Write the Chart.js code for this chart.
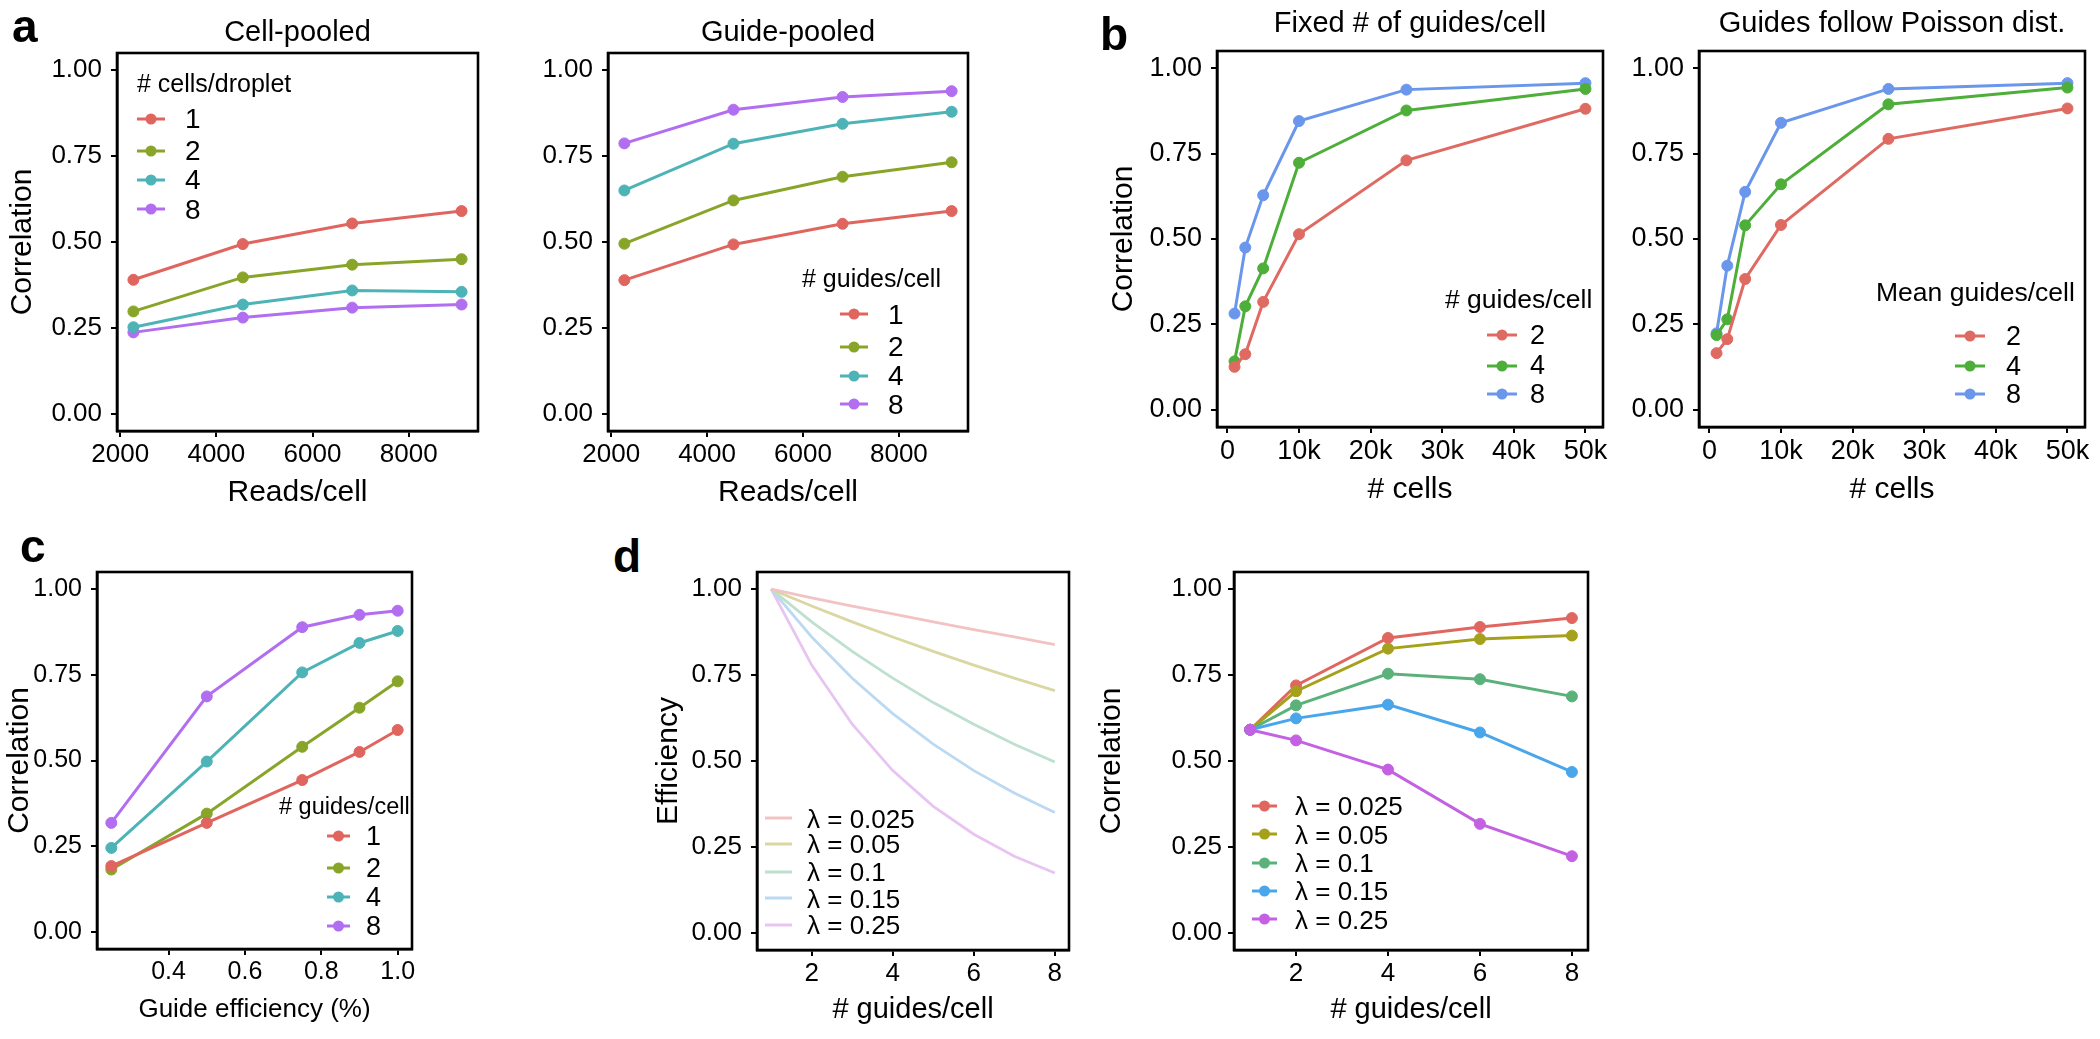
<!DOCTYPE html>
<html><head><meta charset="utf-8">
<script src="https://cdn.jsdelivr.net/npm/chart.js@4.4.1/dist/chart.umd.min.js"></script>
<style>
html,body{margin:0;padding:0;background:#fff;}
body{width:2100px;height:1039px;position:relative;overflow:hidden;font-family:'Liberation Sans',Arial,sans-serif;color:#000;}
canvas{position:absolute;}
.t{position:absolute;white-space:nowrap;line-height:1;font-family:'Liberation Sans',Arial,sans-serif;color:#000;}
.pl{position:absolute;font-weight:bold;font-size:46px;line-height:46px;font-family:'Liberation Sans',Arial,sans-serif;}
svg.k{position:absolute;overflow:visible;}
</style></head><body>
<script>
// ---------------- DATA ----------------
const corrTicks = [0, 0.25, 0.5, 0.75, 1];
const corrTickLabels = ['0.00', '0.25', '0.50', '0.75', '1.00'];

// panel a
const readsPerCell = [2275, 4550, 6825, 9100];
const readsTicks = [2000, 4000, 6000, 8000];
const readsTickLabels = ['2000', '4000', '6000', '8000'];
const groupLabels = ['1', '2', '4', '8'];
const cellPooled1 = [0.390, 0.494, 0.554, 0.590];
const cellPooled2 = [0.298, 0.397, 0.434, 0.450];
const cellPooled4 = [0.252, 0.318, 0.359, 0.355];
const cellPooled8 = [0.237, 0.280, 0.309, 0.318];
const guidePooled1 = [0.389, 0.493, 0.553, 0.590];
const guidePooled2 = [0.495, 0.621, 0.690, 0.732];
const guidePooled4 = [0.650, 0.786, 0.844, 0.879];
const guidePooled8 = [0.787, 0.885, 0.922, 0.939];

// panel b
const numCells = [1000, 2500, 5000, 10000, 25000, 50000];
const cellTicks = [0, 10000, 20000, 30000, 40000, 50000];
const cellTickLabels = ['0', '10k', '20k', '30k', '40k', '50k'];
const bLabels = ['2', '4', '8'];
const fixed2 = [0.126, 0.163, 0.316, 0.514, 0.730, 0.881];
const fixed4 = [0.142, 0.303, 0.414, 0.723, 0.876, 0.939];
const fixed8 = [0.282, 0.475, 0.628, 0.845, 0.937, 0.956];
const poisson2 = [0.166, 0.207, 0.383, 0.541, 0.793, 0.882];
const poisson4 = [0.219, 0.265, 0.540, 0.660, 0.894, 0.943];
const poisson8 = [0.224, 0.422, 0.638, 0.840, 0.939, 0.956];

// panel c
const guideEfficiency = [0.25, 0.5, 0.75, 0.9, 1.0];
const effTicks = [0.4, 0.6, 0.8, 1.0];
const effTickLabels = ['0.4', '0.6', '0.8', '1.0'];
const effCorr1 = [0.192, 0.318, 0.443, 0.525, 0.589];
const effCorr2 = [0.182, 0.345, 0.540, 0.654, 0.731];
const effCorr4 = [0.245, 0.497, 0.757, 0.843, 0.878];
const effCorr8 = [0.318, 0.687, 0.889, 0.925, 0.937];

// panel d
const lambdaLabels = ['λ = 0.025', 'λ = 0.05', 'λ = 0.1', 'λ = 0.15', 'λ = 0.25'];
const guidesCurve = [1, 2, 3, 4, 5, 6, 7, 8];
const efficiency0025 = [1.00, 0.975, 0.951, 0.928, 0.905, 0.882, 0.861, 0.839];
const efficiency005 = [1.00, 0.951, 0.905, 0.861, 0.819, 0.779, 0.741, 0.705];
const efficiency01 = [1.00, 0.905, 0.819, 0.741, 0.670, 0.607, 0.549, 0.497];
const efficiency015 = [1.00, 0.861, 0.741, 0.638, 0.549, 0.472, 0.407, 0.350];
const efficiency025 = [1.00, 0.779, 0.607, 0.472, 0.368, 0.287, 0.223, 0.174];
const guidesPoints = [1, 2, 4, 6, 8];
const guideTicks = [2, 4, 6, 8];
const guideTickLabels = ['2', '4', '6', '8'];
const lamCorr0025 = [0.591, 0.720, 0.858, 0.890, 0.916];
const lamCorr005 = [0.591, 0.703, 0.827, 0.855, 0.865];
const lamCorr01 = [0.591, 0.662, 0.754, 0.738, 0.688];
const lamCorr015 = [0.591, 0.624, 0.664, 0.583, 0.468];
const lamCorr025 = [0.591, 0.560, 0.475, 0.317, 0.223];

// ---------------- STYLE ----------------
const FONT = "'Liberation Sans', Arial, sans-serif";
Chart.defaults.font.family = FONT;
Chart.defaults.color = '#000';

const col4 = ['#E0655F', '#88A52A', '#4DB3B7', '#B26EF0'];
const col3 = ['#DF6A62', '#4DAE3A', '#6A96EC'];
const col5 = ['#E0675F', '#A6A11A', '#5AB27A', '#4AA6EA', '#C460E2'];
const col5pale = ['#F2C3C2', '#DAD7A3', '#BFDFCF', '#BCD9F2', '#E8C4F1'];

const boxPlugin = {
  id: 'panelBox',
  afterDraw(chart) {
    const {ctx, chartArea: a} = chart;
    ctx.save();
    ctx.strokeStyle = '#000';
    ctx.lineWidth = 2.6;
    ctx.strokeRect(a.left, a.top, a.right - a.left, a.bottom - a.top);
    ctx.restore();
  }
};

function ser(label, xs, ys, color, extra) {
  return Object.assign({
    label, data: xs.map((x, i) => ({x, y: ys[i]})),
    borderColor: color, backgroundColor: color,
    pointBackgroundColor: color, pointBorderColor: color,
    pointRadius: 5.5, pointHoverRadius: 5.5, pointBorderWidth: 1,
    borderWidth: 3, tension: 0, fill: false
  }, extra || {});
}

function buildChart(P, datasets) {
  const LH = 1.2;
  const yw = P.yTitle ? Math.round(P.L - P.yTitleX + 20) : 80;
  const Lc = P.L - yw;
  const W = Math.round(P.R + P.pr - Lc);
  const xh = Math.round(P.xTitleY - P.B + 20);
  const H = Math.round(P.B + xh - P.Tc);
  const cv = document.createElement('canvas');
  cv.width = W; cv.height = H;
  cv.style.left = Lc + 'px'; cv.style.top = P.Tc + 'px';
  document.body.appendChild(cv);

  let titleOpt = {display: false};
  if (P.title) {
    const pt = P.titleMid - P.Tc - P.titleSize * LH / 2;
    const pb = P.T - P.Tc - pt - P.titleSize * LH;
    titleOpt = {display: true, text: P.title, fullSize: false, color: '#000',
      font: {size: P.titleSize, weight: 'normal', family: FONT}, padding: {top: pt, bottom: pb}};
  }
  const yPad = P.yTitle ? yw - (P.L - P.yTitleX) - P.yTitleSize * LH / 2 : 0;
  const xPad = xh - (P.xTitleY - P.B) - P.xTitleSize * LH / 2;
  const grid = {drawOnChartArea: false, drawTicks: true, tickLength: 6, tickWidth: 2, tickColor: '#000', color: '#000', lineWidth: 2};
  const border = {display: true, color: '#000', width: 2.6};

  return new Chart(cv, {
    type: 'line',
    data: {datasets},
    options: {
      responsive: false, animation: false, devicePixelRatio: 1,
      layout: {padding: {top: P.title ? 0 : (P.T - P.Tc), right: P.pr, bottom: 0, left: 0}},
      plugins: {legend: {display: false}, tooltip: {enabled: false}, title: titleOpt},
      scales: {
        x: {
          type: 'linear', min: P.xMin, max: P.xMax,
          afterBuildTicks: s => { s.ticks = P.xTicks.map(v => ({value: v})); },
          afterFit: s => { s.height = xh; },
          ticks: {callback: (v, i) => P.xTickLabels[i], font: {size: P.xTickSize}, color: '#000', padding: 2, maxRotation: 0, autoSkip: false},
          grid, border,
          title: {display: true, text: P.xTitle, color: '#000', font: {size: P.xTitleSize}, padding: {top: 0, bottom: xPad}}
        },
        y: {
          type: 'linear', min: -0.05, max: 1.05,
          afterBuildTicks: s => { s.ticks = corrTicks.map(v => ({value: v})); },
          afterFit: s => { s.width = yw; },
          ticks: {callback: (v, i) => corrTickLabels[i], font: {size: P.yTickSize}, color: '#000', padding: P.yTickPad || 9, autoSkip: false},
          grid, border,
          title: {display: !!P.yTitle, text: P.yTitle || '', color: '#000', font: {size: P.yTitleSize || 30}, padding: {top: yPad, bottom: 0}}
        }
      }
    },
    plugins: [boxPlugin]
  });
}

function addText(str, x, top, size) {
  const d = document.createElement('div');
  d.className = 't';
  d.textContent = str;
  d.style.left = x + 'px'; d.style.top = top + 'px'; d.style.fontSize = size + 'px';
  document.body.appendChild(d);
}

function addLegend(chart, S) {
  if (S.title) addText(S.title, S.titleX, S.titleBase - 0.8465 * S.titleSize, S.titleSize);
  chart.data.datasets.forEach((ds, i) => {
    const cy = S.ys[i];
    const c = ds.borderColor;
    const svg = document.createElementNS('http://www.w3.org/2000/svg', 'svg');
    svg.setAttribute('class', 'k');
    svg.setAttribute('width', S.keyW); svg.setAttribute('height', 16);
    svg.style.left = S.keyX + 'px'; svg.style.top = (cy - 8) + 'px';
    let inner = `<line x1="0" y1="8" x2="${S.keyW}" y2="8" stroke="${c}" stroke-width="${S.lineW || 3}"/>`;
    if (S.points) inner += `<circle cx="${S.keyW / 2}" cy="8" r="5.5" fill="${c}"/>`;
    svg.innerHTML = inner;
    document.body.appendChild(svg);
    addText(ds.label, S.labelX, cy - 0.49 * S.labelSize, S.labelSize);
  });
}

function panelLetter(ch, x, top) {
  const d = document.createElement('div');
  d.className = 'pl'; d.textContent = ch;
  d.style.left = x + 'px'; d.style.top = top + 'px';
  document.body.appendChild(d);
}

// ---------------- CHARTS ----------------
const chA1 = buildChart({L: 117, T: 53, R: 478, B: 431, Tc: 0, pr: 20,
  title: 'Cell-pooled', titleMid: 33, titleSize: 29,
  yTitle: 'Correlation', yTitleX: 23, yTitleSize: 30, yTickSize: 26,
  xTitle: 'Reads/cell', xTitleY: 493, xTitleSize: 30, xTickSize: 26,
  xMin: 1933.75, xMax: 9441.25, xTicks: readsTicks, xTickLabels: readsTickLabels},
  [cellPooled1, cellPooled2, cellPooled4, cellPooled8].map((ys, i) => ser(groupLabels[i], readsPerCell, ys, col4[i])));
addLegend(chA1, {title: '# cells/droplet', titleX: 137, titleBase: 91.7, titleSize: 25,
  keyX: 137, keyW: 28, labelX: 185, labelSize: 28, ys: [119, 150.7, 180, 209.3], points: true});

const chA2 = buildChart({L: 608, T: 53, R: 968, B: 431, Tc: 0, pr: 20,
  title: 'Guide-pooled', titleMid: 33, titleSize: 29, yTickSize: 26,
  xTitle: 'Reads/cell', xTitleY: 493, xTitleSize: 30, xTickSize: 26,
  xMin: 1933.75, xMax: 9441.25, xTicks: readsTicks, xTickLabels: readsTickLabels},
  [guidePooled1, guidePooled2, guidePooled4, guidePooled8].map((ys, i) => ser(groupLabels[i], readsPerCell, ys, col4[i])));
addLegend(chA2, {title: '# guides/cell', titleX: 802, titleBase: 287.3, titleSize: 25,
  keyX: 840, keyW: 28, labelX: 888, labelSize: 28, ys: [314.3, 346.7, 376, 404.3], points: true});

const chB1 = buildChart({L: 1217, T: 51, R: 1603, B: 427, Tc: 0, pr: 20,
  title: 'Fixed # of guides/cell', titleMid: 24.3, titleSize: 29,
  yTitle: 'Correlation', yTitleX: 1124, yTitleSize: 30, yTickSize: 27,
  xTitle: '# cells', xTitleY: 490, xTitleSize: 30, xTickSize: 27,
  xMin: -1450, xMax: 52450, xTicks: cellTicks, xTickLabels: cellTickLabels},
  [fixed2, fixed4, fixed8].map((ys, i) => ser(bLabels[i], numCells, ys, col3[i])));
addLegend(chB1, {title: '# guides/cell', titleX: 1445, titleBase: 308.3, titleSize: 26.5,
  keyX: 1487, keyW: 30, labelX: 1530, labelSize: 27, ys: [335, 365.7, 394.3], points: true});

const chB2 = buildChart({L: 1699, T: 51, R: 2085, B: 427, Tc: 0, pr: 15,
  title: 'Guides follow Poisson dist.', titleMid: 24.3, titleSize: 29, yTickSize: 27,
  xTitle: '# cells', xTitleY: 490, xTitleSize: 30, xTickSize: 27,
  xMin: -1450, xMax: 52450, xTicks: cellTicks, xTickLabels: cellTickLabels},
  [poisson2, poisson4, poisson8].map((ys, i) => ser(bLabels[i], numCells, ys, col3[i])));
addLegend(chB2, {title: 'Mean guides/cell', titleX: 1876, titleBase: 301.7, titleSize: 26.5,
  keyX: 1955, keyW: 30, labelX: 2006, labelSize: 27, ys: [336, 366, 394.3], points: true});

const chC = buildChart({L: 97, T: 572, R: 412, B: 949, Tc: 520, pr: 20,
  yTitle: 'Correlation', yTitleX: 20, yTitleSize: 30, yTickSize: 25,
  xTitle: 'Guide efficiency (%)', xTitleY: 1010, xTitleSize: 26, xTickSize: 25,
  xMin: 0.2125, xMax: 1.0375, xTicks: effTicks, xTickLabels: effTickLabels},
  [effCorr1, effCorr2, effCorr4, effCorr8].map((ys, i) => ser(groupLabels[i], guideEfficiency, ys, col4[i])));
addLegend(chC, {title: '# guides/cell', titleX: 279, titleBase: 815, titleSize: 23.5,
  keyX: 327, keyW: 23, labelX: 366, labelSize: 27, ys: [836, 868.3, 897.3, 926], points: true});

const chD1 = buildChart({L: 757, T: 572, R: 1069, B: 950, Tc: 520, pr: 20,
  yTitle: 'Efficiency', yTitleX: 669, yTitleSize: 30, yTickSize: 26,
  xTitle: '# guides/cell', xTitleY: 1010, xTitleSize: 29, xTickSize: 26,
  xMin: 0.65, xMax: 8.35, xTicks: guideTicks, xTickLabels: guideTickLabels},
  [efficiency0025, efficiency005, efficiency01, efficiency015, efficiency025].map((ys, i) =>
    ser(lambdaLabels[i], guidesCurve, ys, col5pale[i], {pointRadius: 0, pointHoverRadius: 0, borderWidth: 2.8})));
addLegend(chD1, {keyX: 765, keyW: 27, labelX: 807, labelSize: 26, ys: [818.3, 844, 871.7, 898.3, 925], points: false, lineW: 3});

const chD2 = buildChart({L: 1234, T: 572, R: 1588, B: 950, Tc: 520, pr: 20,
  yTitle: 'Correlation', yTitleX: 1112, yTitleSize: 30, yTickSize: 26, yTickPad: 6,
  xTitle: '# guides/cell', xTitleY: 1010, xTitleSize: 29, xTickSize: 26,
  xMin: 0.65, xMax: 8.35, xTicks: guideTicks, xTickLabels: guideTickLabels},
  [lamCorr0025, lamCorr005, lamCorr01, lamCorr015, lamCorr025].map((ys, i) =>
    ser(lambdaLabels[i], guidesPoints, ys, col5[i], {order: -i})));
addLegend(chD2, {keyX: 1252, keyW: 25, labelX: 1295, labelSize: 26, ys: [805.7, 834.3, 862.7, 891, 919.3], points: true});

panelLetter('a', 12, 3);
panelLetter('b', 1100, 11);
panelLetter('c', 20, 523);
panelLetter('d', 613, 533);
</script>
</body></html>
